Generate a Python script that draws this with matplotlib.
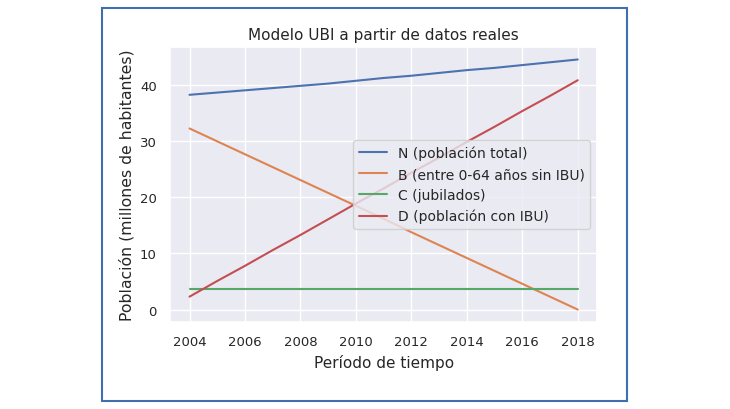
import numpy as np
import matplotlib
matplotlib.use("Agg")
import matplotlib.pyplot as plt
import seaborn as sns
from matplotlib.patches import Rectangle

# Datos (millones de habitantes)
years = [2004, 2005, 2006, 2007, 2008, 2009, 2010, 2011, 2012, 2013, 2014, 2015, 2016, 2017, 2018]
n_total = [38.3, 38.7, 39.1, 39.5, 39.9, 40.3, 40.8, 41.3, 41.7, 42.2, 42.7, 43.1, 43.6, 44.1, 44.6]
b_sin_ibu = [32.3, 30.0, 27.7, 25.4, 23.1, 20.8, 18.5, 16.2, 13.8, 11.5, 9.2, 6.9, 4.6, 2.3, 0.0]
c_jubilados = [3.7] * 15
d_con_ibu = [2.3, 5.1, 7.8, 10.6, 13.3, 16.1, 18.9, 21.6, 24.4, 27.1, 29.9, 32.6, 35.4, 38.1, 40.9]

labels = ["N (población total)", "B (entre 0-64 años sin IBU)",
          "C (jubilados)", "D (población con IBU)"]

sns.set_theme()
plt.rcParams['font.family'] = ['DejaVu Sans']

fig = plt.figure(figsize=(7.3, 4.1), dpi=100)
ax = fig.add_axes([0.233, 0.212, 0.585, 0.671])

ax.plot(years, n_total, label=labels[0])
ax.plot(years, b_sin_ibu, label=labels[1])
ax.plot(years, c_jubilados, label=labels[2])
ax.plot(years, d_con_ibu, label=labels[3])

ax.set_xticks(np.arange(2004, 2019, 2))
ax.tick_params(labelsize=9.5)
ax.set_title("Modelo UBI a partir de datos reales", fontsize=11)
ax.set_xlabel("Período de tiempo", fontsize=11)
ax.set_ylabel("Población (millones de habitantes)", fontsize=11.3)
ax.legend(loc="center right", fontsize=10)

# marco azul alrededor de la figura
fig.patches.append(Rectangle((0.1397, 0.0195), 0.7192, 0.9585, transform=fig.transFigure,
                             fill=False, edgecolor="#3f6fae", linewidth=1.5))

fig.savefig("out.png", dpi=100)
